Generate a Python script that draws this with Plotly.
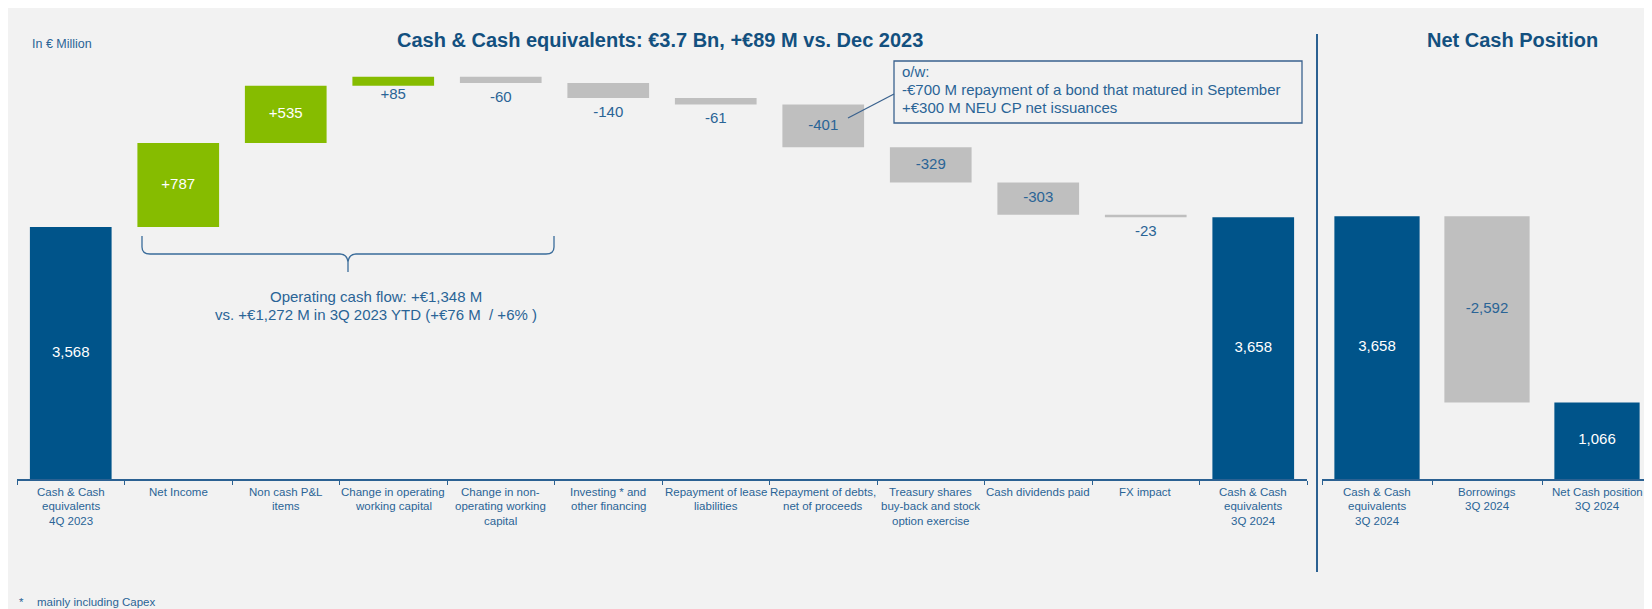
import plotly.graph_objects as go

W, H = 1652, 609

# ---------------- data ----------------
left_categories = [
    "Cash & Cash<br>equivalents<br>4Q 2023",
    "Net Income",
    "Non cash P&L<br>items",
    "Change in operating<br>working capital",
    "Change in non-<br>operating working<br>capital",
    "Investing * and<br>other financing",
    "Repayment of lease<br>liabilities",
    "Repayment of debts,<br>net of proceeds",
    "Treasury shares<br>buy-back and stock<br>option exercise",
    "Cash dividends paid",
    "FX impact",
    "Cash & Cash<br>equivalents<br>3Q 2024",
]
left_values = [3568, 787, 535, 85, -60, -140, -61, -401, -329, -303, -23, 3658]
left_measures = ["absolute"] + ["relative"] * 10 + ["total"]

right_categories = [
    "Cash & Cash<br>equivalents<br>3Q 2024",
    "Borrowings<br>3Q 2024",
    "Net Cash position<br>3Q 2024",
]
right_values = [3658, -2592, 1066]
right_measures = ["absolute", "relative", "total"]

title_left = "Cash & Cash equivalents: €3.7 Bn, +€89 M vs. Dec 2023"
title_right = "Net Cash Position"
unit_label = "In € Million"
ocf_lines = ["Operating cash flow: +€1,348 M",
             "vs. +€1,272 M in 3Q 2023 YTD (+€76 M  / +6% )"]
note_lines = ["o/w:",
              "-€700 M repayment of a bond that matured in September",
              "+€300 M NEU CP net issuances"]
footnote = "mainly including Capex"

# ---------------- style ----------------
FONT = "Liberation Sans, Arial, sans-serif"
BLUE = "#00548A"
GREEN = "#86BC00"
GREY = "#BFBFBF"
TXT = "#2A6496"
TITLE = "#13507F"
LINE = "#2B6192"
BG = "#F2F2F2"
OFF = 8  # page body margin: screen px -> figure px

Y_TOP_PX, Y_BOT_PX = 60, 479   # screen px
LEFT_RANGE = [1208, 5131]
RIGHT_RANGE = [0, 5836]


def px(x):
    return (x - OFF) / W


def py(y):
    return 1 - (y - OFF) / H


def waterfall(values, measures):
    bases, heights, colors, texts = [], [], [], []
    cum = 0
    for v, m in zip(values, measures):
        if m == "relative":
            bases.append(cum + min(v, 0))
            heights.append(abs(v))
            colors.append(GREEN if v > 0 else GREY)
            texts.append(f"{v:+,}")
            cum += v
        else:
            bases.append(0)
            heights.append(v)
            colors.append(BLUE)
            texts.append(f"{v:,}")
            cum = v
    return bases, heights, colors, texts


def label_positions(bases, heights, colors, rng):
    scale = (Y_BOT_PX - Y_TOP_PX) / (rng[1] - rng[0])  # px per unit
    ys, cols = [], []
    for b, h, c in zip(bases, heights, colors):
        if h * scale < 25:
            gap = 10 if c == GREEN else 15
            ys.append(b - gap / scale)
            cols.append(TXT)
        else:
            lo = max(b, rng[0])
            ys.append((lo + b + h) / 2)
            cols.append("white" if c != GREY else TXT)
    return ys, cols


fig = go.Figure()

for cats, vals, meas, rng, xa, ya, wd in [
    (left_categories, left_values, left_measures, LEFT_RANGE, "x", "y", 0.76),
    (right_categories, right_values, right_measures, RIGHT_RANGE, "x2", "y2", 0.775),
]:
    b, h, c, t = waterfall(vals, meas)
    fig.add_trace(go.Bar(x=cats, y=h, base=b, marker=dict(color=c, line=dict(width=0)),
                         width=wd, xaxis=xa, yaxis=ya, hoverinfo="skip", showlegend=False))
    ys, cols = label_positions(b, h, c, rng)
    fig.add_trace(go.Scatter(x=cats, y=ys, text=t, mode="text", textposition="middle center",
                             textfont=dict(family=FONT, size=15, color=cols),
                             cliponaxis=False, xaxis=xa, yaxis=ya, hoverinfo="skip",
                             showlegend=False))

xcommon = dict(type="category", showline=True, linecolor=LINE, linewidth=1.5,
               ticks="outside", tickson="boundaries", ticklen=4, tickcolor=LINE,
               tickwidth=1.2, showticklabels=False, showgrid=False, zeroline=False,
               fixedrange=True)
ydom = [py(Y_BOT_PX), py(Y_TOP_PX)]

fig.update_layout(
    width=W, height=H, autosize=False,
    margin=dict(l=0, r=0, t=0, b=0),
    paper_bgcolor=BG, plot_bgcolor="rgba(0,0,0,0)",
    xaxis=dict(domain=[px(17), px(1307)], anchor="y", range=[-0.5, 11.5], **xcommon),
    xaxis2=dict(domain=[px(1322), px(1652)], anchor="y2", range=[-0.5, 2.5], **xcommon),
    yaxis=dict(domain=ydom, anchor="x", range=LEFT_RANGE, visible=False, fixedrange=True),
    yaxis2=dict(domain=ydom, anchor="x2", range=RIGHT_RANGE, visible=False, fixedrange=True),
)

shapes = [
    dict(type="line", xref="paper", yref="paper", x0=px(1317), x1=px(1317),
         y0=py(34), y1=py(572), line=dict(color=LINE, width=2)),
    dict(type="rect", xref="paper", yref="paper", x0=px(894), x1=px(1302),
         y0=py(61), y1=py(123), line=dict(color="#3A628E", width=1.3)),
    dict(type="line", xref="paper", yref="paper", x0=px(848), y0=py(118),
         x1=px(894), y1=py(94), line=dict(color="#3A628E", width=1.3)),
]


def P(x, y):
    return f"{px(x):.5f},{py(y):.5f}"


brace = (f"M {P(142,236)} L {P(142,247)} Q {P(142,254)} {P(150,254)} "
         f"L {P(340,254)} Q {P(347,254)} {P(348,262)} L {P(348,272)} "
         f"M {P(348,262)} Q {P(349,254)} {P(356,254)} L {P(546,254)} "
         f"Q {P(554,254)} {P(554,247)} L {P(554,236)}")
shapes.append(dict(type="path", xref="paper", yref="paper", path=brace,
                   line=dict(color="#3A6C9A", width=1.3)))
fig.update_layout(shapes=shapes)

ann = []


def text(x, y, s, size, color=TXT, xanchor="center", xref="paper", bold=False):
    ann.append(dict(x=px(x) if xref == "paper" else x, y=py(y), xref=xref, yref="paper",
                    text=f"<b>{s}</b>" if bold else s, showarrow=False,
                    xanchor=xanchor, yanchor="middle",
                    font=dict(family=FONT, size=size, color=color)))


text(660, 40, title_left, 20, TITLE, bold=True)
text(1512, 40, title_right, 20, TITLE, bold=True)
text(30, 44, unit_label, 12.5, TXT, xanchor="left")
for i, s in enumerate(ocf_lines):
    text(376, 296 + 18 * i, s, 15, TXT)
for i, s in enumerate(note_lines):
    text(900, 72 + 17.7 * i, s, 15, TXT, xanchor="left")
text(17, 602, "*", 11.5, TXT, xanchor="left")
text(35, 602, footnote, 11.5, TXT, xanchor="left")

# category labels, line by line, positioned through the category axes
for cats, xr in [(left_categories, "x"), (right_categories, "x2")]:
    for c in cats:
        for j, line in enumerate(c.split("<br>")):
            text(c, 492 + 14.3 * j, line, 11.5, TXT, xref=xr)

fig.update_layout(annotations=ann)
fig.write_html("out.html")
